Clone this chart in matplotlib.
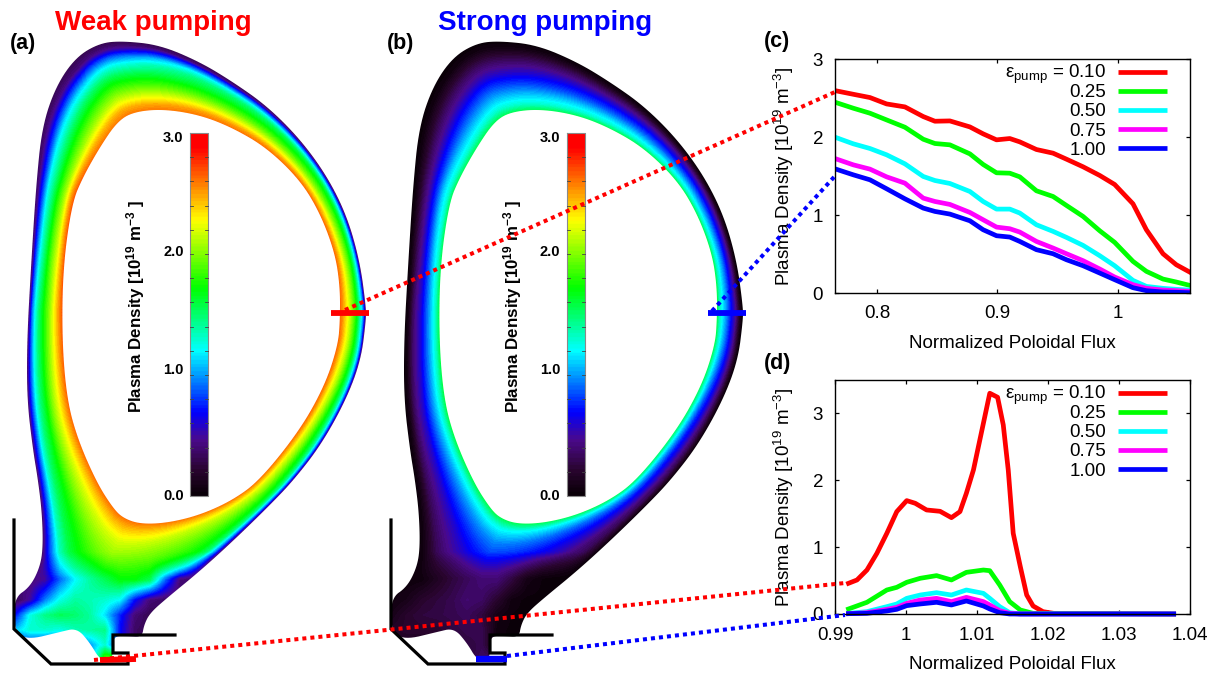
import numpy as np
import matplotlib
matplotlib.use("Agg")
import matplotlib.pyplot as plt
from matplotlib.colors import LinearSegmentedColormap
from matplotlib.path import Path
from matplotlib.patches import PathPatch

plt.rcParams["font.family"] = ["Liberation Sans", "DejaVu Sans"]
plt.rcParams["mathtext.fontset"] = "custom"
plt.rcParams["mathtext.rm"] = "Liberation Sans"
plt.rcParams["mathtext.it"] = "Liberation Sans:italic"
plt.rcParams["mathtext.bf"] = "Liberation Sans:bold"
plt.rcParams["mathtext.default"] = "regular"

W, H = 1215, 675

# ---------- data: line panels ----------
SERIES_LABELS = ["0.10", "0.25", "0.50", "0.75", "1.00"]
SERIES_COLORS = ["#ff0000", "#00ff00", "#00ffff", "#ff00ff", "#0000ff"]

flux_c = [0.7652, 0.7804, 0.7942, 0.808, 0.8232, 0.8384, 0.8481, 0.8605, 0.8771, 0.8881, 0.8992, 0.9102,
          0.9185, 0.9323, 0.9461, 0.9572, 0.971, 0.9848, 0.9972, 1.0124, 1.0235, 1.0373, 1.0483, 1.0594]
c_010 = [2.598, 2.551, 2.509, 2.427, 2.389, 2.265, 2.205, 2.209, 2.132, 2.043, 1.966, 1.983,
         1.94, 1.842, 1.795, 1.718, 1.62, 1.509, 1.393, 1.145, 0.812, 0.504, 0.363, 0.269]
c_025 = [2.449, 2.372, 2.308, 2.222, 2.128, 1.974, 1.919, 1.902, 1.786, 1.65, 1.543, 1.538,
         1.491, 1.312, 1.239, 1.124, 0.983, 0.799, 0.65, 0.406, 0.278, 0.179, 0.141, 0.098]
c_050 = [2.0, 1.915, 1.855, 1.774, 1.658, 1.496, 1.444, 1.406, 1.303, 1.175, 1.077, 1.077,
         1.026, 0.876, 0.791, 0.714, 0.611, 0.479, 0.35, 0.162, 0.085, 0.06, 0.047, 0.038]
c_075 = [1.726, 1.645, 1.59, 1.491, 1.41, 1.218, 1.175, 1.137, 1.034, 0.94, 0.846, 0.825,
         0.782, 0.662, 0.577, 0.504, 0.415, 0.308, 0.205, 0.107, 0.06, 0.038, 0.03, 0.021]
c_100 = [1.594, 1.517, 1.453, 1.338, 1.209, 1.09, 1.047, 1.013, 0.927, 0.812, 0.735, 0.718,
         0.662, 0.556, 0.504, 0.427, 0.35, 0.256, 0.171, 0.068, 0.03, 0.013, 0.009, 0.004]

flux_d_red = [0.9919, 0.9931, 0.9945, 0.9959, 0.9973, 0.9987, 1.0001, 1.0013, 1.0029, 1.0048, 1.0064, 1.0076,
              1.0085, 1.0095, 1.0107, 1.0118, 1.0129, 1.0137, 1.0144, 1.0151, 1.0161, 1.017, 1.0179, 1.0193,
              1.0208, 1.0377]
d_010 = [0.459, 0.509, 0.658, 0.908, 1.207, 1.531, 1.696, 1.656, 1.556, 1.536, 1.441, 1.531,
         1.805, 2.155, 2.753, 3.302, 3.242, 2.828, 2.155, 1.207, 0.708, 0.284, 0.12, 0.035,
         0.01, 0.0]
flux_d = [0.9919, 0.9945, 0.9973, 0.9987, 1.0001, 1.002, 1.0043, 1.0064, 1.0085, 1.0109, 1.0118, 1.0132,
          1.0146, 1.0161, 1.0179, 1.0377]
d_025 = [0.075, 0.175, 0.359, 0.399, 0.474, 0.534, 0.574, 0.509, 0.623, 0.658, 0.648, 0.434, 0.185, 0.06, 0.01, 0.0]
d_050 = [0.01, 0.035, 0.11, 0.15, 0.234, 0.284, 0.319, 0.284, 0.359, 0.309, 0.234, 0.11, 0.02, 0.0, 0.0, 0.0]
d_075 = [0.005, 0.02, 0.07, 0.1, 0.16, 0.209, 0.234, 0.185, 0.249, 0.185, 0.135, 0.05, 0.01, 0.0, 0.0, 0.0]
d_100 = [0.005, 0.01, 0.045, 0.07, 0.125, 0.15, 0.175, 0.135, 0.195, 0.12, 0.075, 0.02, 0.0, 0.0, 0.0, 0.0]

# ---------- data: density maps ----------
cmap_levels = [0.0, 0.2, 0.45, 0.68, 1.2, 1.72, 2.29, 2.55, 2.9, 3.0]
cmap_colors = ["#0a0008", "#2a0530", "#4b0a8c", "#0000ff", "#00ffff", "#00ff00", "#ffff00", "#ff9000", "#ff0000", "#ff0000"]

plasma_outer_x = [123, 160, 200, 233, 267, 300, 327, 347, 360, 366, 366, 361, 346, 321, 293, 267, 233, 200, 167, 150,
                  144, 142, 128, 113, 113, 111, 100, 90, 77, 60, 27, 14, 14, 30, 40, 43, 42, 38, 33, 27, 27, 31, 36,
                  42, 56, 76, 100]
plasma_outer_y = [41, 45, 62, 82, 106, 139, 176, 216, 262, 307, 320, 360, 400, 445, 481, 508, 541, 571, 598, 613,
                  625, 637, 636, 636, 653, 660, 660, 643, 628, 632, 640, 630, 598, 587, 567, 547, 513, 480, 450, 400,
                  340, 267, 187, 127, 86, 57, 43]
plasma_inner_x = [163, 200, 233, 267, 300, 320, 335, 340, 340, 338, 325, 300, 260, 233, 200, 167, 140, 123, 113, 97,
                  78, 67, 62, 63, 72, 83, 100, 117, 133]
plasma_inner_y = [109, 115, 128, 148, 180, 213, 253, 287, 320, 345, 385, 430, 480, 500, 515, 523, 524, 518, 508, 483,
                  440, 400, 340, 267, 203, 177, 147, 122, 112]

s_stations = [0.0, 0.05, 0.1, 0.2, 0.3, 0.45, 0.6, 0.75, 0.9, 1.0]
theta_stations = [0, 45, 90, 115, 135, 160, 180, 215, 270, 315, 360]
main_a = [
    [0.35, 0.65, 0.95, 1.30, 1.60, 1.90, 2.15, 2.35, 2.55, 2.65],
    [0.30, 0.55, 0.90, 1.30, 1.60, 1.80, 2.00, 2.25, 2.50, 2.65],
    [0.30, 0.40, 0.70, 1.20, 1.45, 1.65, 1.90, 2.20, 2.50, 2.60],
    [0.30, 0.35, 0.40, 0.75, 1.10, 1.50, 1.80, 2.10, 2.45, 2.60],
    [0.35, 0.40, 0.55, 0.85, 1.20, 1.50, 1.80, 2.10, 2.50, 2.70],
    [0.35, 0.50, 0.75, 1.10, 1.35, 1.65, 1.95, 2.20, 2.50, 2.70],
    [0.35, 0.60, 0.90, 1.25, 1.50, 1.75, 2.00, 2.30, 2.55, 2.70],
    [0.35, 0.60, 0.80, 1.20, 1.45, 1.70, 2.00, 2.25, 2.50, 2.65],
    [0.35, 0.70, 1.00, 1.50, 1.70, 1.85, 2.00, 2.15, 2.40, 2.60],
    [0.35, 0.70, 1.00, 1.40, 1.60, 1.80, 2.05, 2.25, 2.50, 2.65],
    [0.35, 0.65, 0.95, 1.30, 1.60, 1.90, 2.15, 2.35, 2.55, 2.65],
]
main_b = [
    [0.00, 0.03, 0.10, 0.30, 0.50, 0.70, 0.95, 1.15, 1.35, 1.60],
    [0.01, 0.04, 0.11, 0.30, 0.48, 0.68, 0.90, 1.12, 1.32, 1.58],
    [0.02, 0.05, 0.12, 0.30, 0.45, 0.65, 0.85, 1.10, 1.30, 1.55],
    [0.02, 0.03, 0.06, 0.20, 0.35, 0.55, 0.80, 1.05, 1.30, 1.55],
    [0.02, 0.03, 0.07, 0.20, 0.35, 0.55, 0.80, 1.10, 1.30, 1.55],
    [0.02, 0.04, 0.09, 0.25, 0.40, 0.58, 0.82, 1.10, 1.32, 1.58],
    [0.02, 0.04, 0.10, 0.30, 0.45, 0.60, 0.85, 1.10, 1.35, 1.60],
    [0.02, 0.04, 0.10, 0.30, 0.45, 0.60, 0.85, 1.10, 1.35, 1.60],
    [0.02, 0.10, 0.20, 0.33, 0.40, 0.55, 0.70, 0.90, 1.20, 1.55],
    [0.02, 0.08, 0.15, 0.30, 0.42, 0.60, 0.75, 1.00, 1.30, 1.55],
    [0.00, 0.03, 0.10, 0.30, 0.50, 0.70, 0.95, 1.15, 1.35, 1.60],
]
div_x = [15, 30, 45, 60, 75, 90, 105, 120, 135, 150, 165, 180, 195, 210, 225]
div_y = [555, 580, 600, 615, 630, 645, 658]
div_a = [
    [0.40, 0.40, 0.40, 1.00, 1.35, 1.55, 1.80, 1.95, 1.95, 2.00, 1.90, 1.60, 1.00, 0.50, 0.40],
    [0.40, 0.40, 0.50, 0.90, 1.20, 1.40, 1.55, 1.70, 1.70, 1.55, 0.90, 0.40, 0.35, 0.35, 0.35],
    [0.30, 0.50, 0.95, 1.25, 1.40, 1.35, 1.30, 1.20, 0.70, 0.40, 0.35, 0.35, 0.35, 0.35, 0.35],
    [0.70, 1.25, 1.45, 1.55, 1.50, 1.40, 1.15, 0.75, 0.40, 0.30, 0.30, 0.30, 0.30, 0.30, 0.30],
    [1.10, 1.30, 1.30, 1.25, 1.35, 1.40, 1.45, 0.70, 0.35, 0.30, 0.30, 0.30, 0.30, 0.30, 0.30],
    [0.70, 0.70, 0.70, 0.70, 0.80, 1.00, 1.30, 0.70, 0.35, 0.30, 0.30, 0.30, 0.30, 0.30, 0.30],
    [0.70, 0.70, 0.70, 0.70, 0.80, 0.90, 1.90, 1.90, 0.35, 0.30, 0.30, 0.30, 0.30, 0.30, 0.30],
]
div_b = [
    [0.03, 0.03, 0.05, 0.10, 0.20, 0.35, 0.45, 0.50, 0.45, 0.30, 0.10, 0.03, 0.02, 0.02, 0.02],
    [0.03, 0.03, 0.05, 0.15, 0.25, 0.33, 0.40, 0.40, 0.25, 0.08, 0.03, 0.02, 0.02, 0.02, 0.02],
    [0.05, 0.10, 0.20, 0.25, 0.30, 0.38, 0.35, 0.20, 0.05, 0.02, 0.02, 0.02, 0.02, 0.02, 0.02],
    [0.10, 0.20, 0.25, 0.27, 0.30, 0.33, 0.25, 0.08, 0.03, 0.02, 0.02, 0.02, 0.02, 0.02, 0.02],
    [0.18, 0.20, 0.20, 0.20, 0.25, 0.30, 0.30, 0.05, 0.02, 0.02, 0.02, 0.02, 0.02, 0.02, 0.02],
    [0.15, 0.15, 0.15, 0.15, 0.20, 0.25, 0.30, 0.05, 0.02, 0.02, 0.02, 0.02, 0.02, 0.02, 0.02],
    [0.15, 0.15, 0.15, 0.15, 0.15, 0.20, 0.35, 0.35, 0.02, 0.02, 0.02, 0.02, 0.02, 0.02, 0.02],
]

wall_x = [14, 14, 51, 128, 128, 113, 113, 175]
wall_y = [520, 629, 664, 664, 653, 653, 635, 635]
PANEL_SHIFT = 377
CBAR_TICKS = [0.0, 1.0, 2.0, 3.0]

# ---------- helpers ----------
def chaikin(x, y, n=3):
    p = np.column_stack([x, y]).astype(float)
    for _ in range(n):
        q = np.roll(p, -1, axis=0)
        p = np.stack([0.75 * p + 0.25 * q, 0.25 * p + 0.75 * q], axis=1).reshape(-1, 2)
    return p

def bilinear(xs, ys, table, qx, qy):
    xs, ys, table = np.asarray(xs, float), np.asarray(ys, float), np.asarray(table, float)
    qx = np.clip(qx, xs[0], xs[-1])
    qy = np.clip(qy, ys[0], ys[-1])
    i = np.clip(np.searchsorted(xs, qx) - 1, 0, len(xs) - 2)
    j = np.clip(np.searchsorted(ys, qy) - 1, 0, len(ys) - 2)
    tx = (qx - xs[i]) / (xs[i + 1] - xs[i])
    ty = (qy - ys[j]) / (ys[j + 1] - ys[j])
    return ((1 - tx) * (1 - ty) * table[j, i] + tx * (1 - ty) * table[j, i + 1]
            + (1 - tx) * ty * table[j + 1, i] + tx * ty * table[j + 1, i + 1])

def min_dist(X, Y, pts):
    d = np.full(X.shape, np.inf, dtype=np.float32)
    for px_, py_ in pts:
        d = np.minimum(d, (X - px_) ** 2 + (Y - py_) ** 2)
    return np.sqrt(d)

outer = chaikin(plasma_outer_x, plasma_outer_y, 3)
inner = chaikin(plasma_inner_x, plasma_inner_y, 3)
gx = np.arange(10, 372) + 0.5
gy = np.arange(38, 668) + 0.5
X, Y = np.meshgrid(gx.astype(np.float32), gy.astype(np.float32))
# distance samples: every contour segment cut into short pieces
def densify(p, k=6):
    q = np.roll(p, -1, axis=0)
    t = (np.arange(k) / k)[None, :, None]
    return (p[:, None, :] * (1 - t) + q[:, None, :] * t).reshape(-1, 2)
d_out = min_dist(X, Y, densify(outer))
d_in = min_dist(X, Y, densify(inner))
S = d_out / (d_in + d_out + 1e-6)
THETA = np.degrees(np.arctan2(-(Y - 310.0), X - 190.0)) % 360.0
BLEND = np.clip((Y - 552.0) / 26.0, 0, 1)

def density_field(main, div):
    f_main = bilinear(theta_stations, s_stations, np.array(main).T, THETA, S)
    f_div = bilinear(div_x, div_y, div, X, Y)
    return (1 - BLEND) * f_main + BLEND * f_div

pos = [v / 3.0 for v in cmap_levels]
cmap = LinearSegmentedColormap.from_list("density", list(zip(pos, cmap_colors)), N=96)

# ---------- figure ----------
fig = plt.figure(figsize=(W / 100, H / 100), dpi=100)
px = fig.add_axes([0, 0, 1, 1], zorder=5)
px.patch.set_alpha(0)
px.axis("off")

def draw_panel(field, shift):
    verts = np.vstack([outer, outer[:1], inner[::-1], inner[-1:]]) + [shift, 0]
    codes = ([Path.MOVETO] + [Path.LINETO] * (len(outer) - 1) + [Path.CLOSEPOLY]
             + [Path.MOVETO] + [Path.LINETO] * (len(inner) - 1) + [Path.CLOSEPOLY])
    patch = PathPatch(Path(verts, codes), fc="none", ec="none", transform=px.transData)
    px.add_patch(patch)
    im = px.imshow(field, extent=(gx[0] - 0.5 + shift, gx[-1] + 0.5 + shift, gy[-1] + 0.5, gy[0] - 0.5),
                   cmap=cmap, vmin=0, vmax=3, aspect="auto", interpolation="bilinear", zorder=1)
    im.set_clip_path(patch)
    px.plot(np.array(wall_x) + shift, wall_y, color="black", lw=2.3, solid_joinstyle="miter", zorder=3)
    # colour bar
    bx0, bx1, by0, by1 = 190 + shift, 208 + shift, 133, 496
    grad = np.linspace(3, 0, 256)[:, None]
    px.imshow(grad, extent=(bx0, bx1, by1, by0), cmap=cmap, vmin=0, vmax=3, aspect="auto", zorder=2)
    px.plot([bx0, bx1, bx1, bx0, bx0], [by0, by0, by1, by1, by0], color="#8a8a8a", lw=0.8, zorder=3)
    for v in np.arange(0.2, 3.0, 0.2):
        ty = by1 - v * (by1 - by0) / 3.0
        px.plot([bx0, bx0 + 3], [ty, ty], color="#444444", lw=0.6, zorder=3)
        px.plot([bx1 - 3, bx1], [ty, ty], color="#444444", lw=0.6, zorder=3)
    for v, ly in zip(CBAR_TICKS, [496, 370, 252, 138]):
        px.text(183.5 + shift, ly, f"{v:.1f}", ha="right", va="center", fontsize=10.5,
                fontweight="bold", color="black", zorder=4)
    px.text(147 + shift, 307, r"Plasma Density [10$^{\mathbf{19}}$ m$^{\mathbf{-3}}$ ]", rotation=90,
            ha="right", va="center", fontsize=12.2, fontweight="bold", color="black", zorder=4)

draw_panel(density_field(main_a, div_a), 0)
draw_panel(density_field(main_b, div_b), PANEL_SHIFT)

# titles and panel letters
px.text(153.5, 30, "Weak pumping", color="#ff0000", fontsize=20, fontweight="bold", ha="center", va="baseline")
px.text(545, 30, "Strong pumping", color="#0000ff", fontsize=20, fontweight="bold", ha="center", va="baseline")
for lab, lx, ly in [("(a)", 10, 43), ("(b)", 387, 43), ("(c)", 764, 42), ("(d)", 764, 363)]:
    px.text(lx, ly, lab, fontsize=15.5, fontweight="bold", ha="left", va="center", color="black")

# position markers
px.plot([331, 369], [313, 313], color="#ff0000", lw=4.2, solid_capstyle="butt", zorder=6)
px.plot([708, 746], [313, 313], color="#0000ff", lw=4.2, solid_capstyle="butt", zorder=6)
px.plot([100, 136], [660, 659], color="#ff0000", lw=4.2, solid_capstyle="butt", zorder=6)
px.plot([476, 507], [659, 659], color="#0000ff", lw=4.6, solid_capstyle="butt", zorder=6)

# connectors
dot = dict(lw=2.9, linestyle=(0, (1, 1)), dash_capstyle="butt", zorder=7)
px.plot([345, 835], [310, 92], color="#ff0000", **dot)
px.plot([712, 835], [311, 176], color="#0000ff", **dot)
px.plot([94, 845], [660, 583], color="#ff0000", **dot)
px.plot([507, 845], [656, 615], color="#0000ff", **dot)

# line panels
FS = 13.5
def style_axes(ax, xlim, ylim, xticks, xlabels, yticks, ylabels):
    ax.set_xlim(*xlim)
    ax.set_ylim(*ylim)
    ax.set_xticks(xticks, xlabels)
    ax.set_yticks(yticks, ylabels)
    ax.tick_params(direction="in", top=True, right=True, length=3, width=0.9, labelsize=FS, color="black")
    ax.tick_params(axis="x", pad=9)
    ax.tick_params(axis="y", pad=8.5)
    for sp in ax.spines.values():
        sp.set_linewidth(1.0)
    ax.set_xlabel("Normalized Poloidal Flux", fontsize=FS)
    ax.xaxis.set_label_coords(0.5, -0.18)
    ax.set_ylabel(r"Plasma Density [10$^{19}$ m$^{-3}$]", fontsize=FS)

def axes_from_px(l, r, t, b):
    return fig.add_axes([l / W, 1 - b / H, (r - l) / W, (b - t) / H], zorder=1)

ax_c = axes_from_px(835, 1190, 59.3, 293)
for vals, col in zip([c_010, c_025, c_050, c_075, c_100], SERIES_COLORS):
    ax_c.plot(flux_c, vals, color=col, lw=3.4, solid_joinstyle="round")
style_axes(ax_c, (0.7652, 1.0597), (0, 3), [0.8, 0.9, 1.0], ["0.8", "0.9", "1"], [0, 1, 2, 3], ["0", "1", "2", "3"])
ax_c.yaxis.set_label_coords(-0.11, 0.5)

ax_d = axes_from_px(835, 1190, 380, 614)
ax_d.plot(flux_d_red, d_010, color=SERIES_COLORS[0], lw=3.4, clip_on=False)
for vals, col in zip([d_025, d_050, d_075, d_100], SERIES_COLORS[1:]):
    ax_d.plot(flux_d, vals, color=col, lw=3.4, clip_on=False)
style_axes(ax_d, (0.99, 1.04), (0, 3.5), [0.99, 1.0, 1.01, 1.02, 1.03, 1.04],
           ["0.99", "1", "1.01", "1.02", "1.03", "1.04"], [0, 1, 2, 3], ["0", "1", "2", "3"])
ax_d.yaxis.set_label_coords(-0.11, 0.5)

# legends (text on the left, sample on the right)
for top in (71.7, 392.7):
    for k, (lab, col) in enumerate(zip(SERIES_LABELS, SERIES_COLORS)):
        ly = top + k * 19.1
        txt = lab if k else r"$\mathregular{\varepsilon_{pump}}$ = " + lab
        px.text(1106, ly + 6.5, txt, ha="right", va="baseline", fontsize=FS, color="black")
        px.plot([1118, 1167], [ly, ly], color=col, lw=3.4, solid_capstyle="butt")

px.set_xlim(0, W)
px.set_ylim(H, 0)
fig.savefig("out.png", dpi=100)
